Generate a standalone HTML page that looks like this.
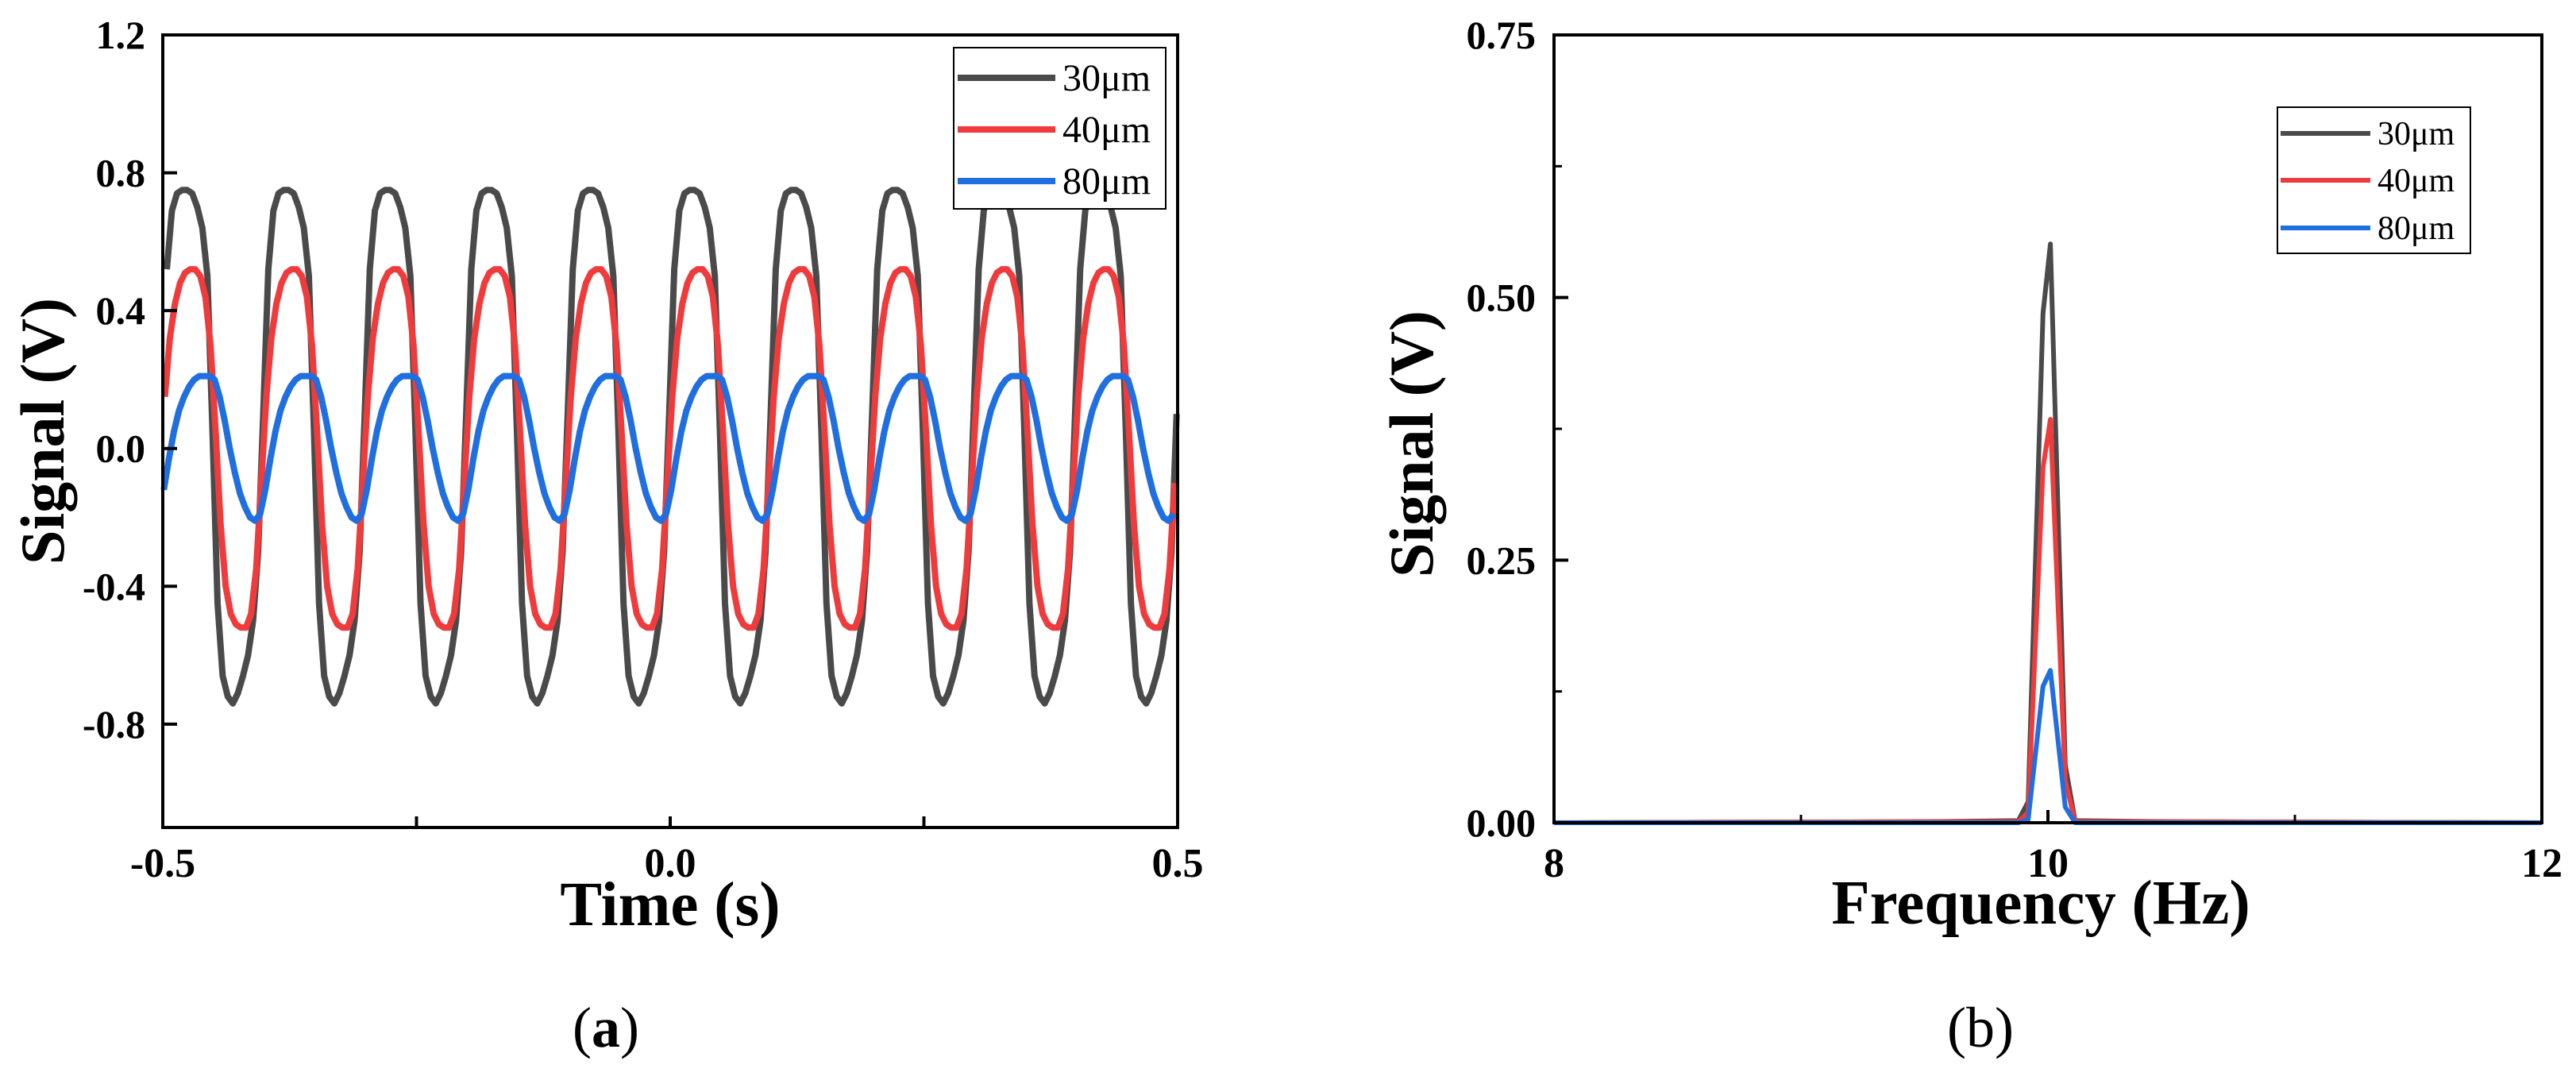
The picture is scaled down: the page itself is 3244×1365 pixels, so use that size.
<!DOCTYPE html>
<html><head><meta charset="utf-8"><style>
html,body{margin:0;padding:0;background:#fff;}
svg{display:block;}
text{font-family:"Liberation Serif",serif;}
</style></head><body>
<svg id="fig" width="3244" height="1365" viewBox="0 0 3244 1365" xmlns="http://www.w3.org/2000/svg"></svg>
<script>
// ---- Panel (a) data: one sampled cycle (step 0.005 s, starting at each series' peak) ----
const cycleStep = 0.005;
const timeStart = -0.5, timeEnd = 0.5;
const seriesNames = ["30μm","40μm","80μm"];
const peakTimes = [-0.476, -0.468, -0.454];
const cycle30 = [0.75,0.74,0.70,0.64,0.50,0.05,-0.45,-0.66,-0.72,-0.74,-0.71,-0.66,-0.60,-0.50,-0.3,0.1,0.52,0.69,0.74,0.75];
const cycle40 = [0.52,0.50,0.44,0.30,0.05,-0.22,-0.40,-0.48,-0.51,-0.52,-0.52,-0.48,-0.35,-0.1,0.15,0.32,0.42,0.48,0.51,0.52];
const cycle80 = [0.21,0.20,0.15,0.08,0.0,-0.07,-0.13,-0.17,-0.20,-0.21,-0.19,-0.12,-0.03,0.05,0.11,0.15,0.18,0.20,0.21,0.21];
const yTicksA = [-0.8,-0.4,0.0,0.4,0.8,1.2];
const yTickLabelsA = ["-0.8","-0.4","0.0","0.4","0.8","1.2"];
const xTicksA = [-0.5,0.0,0.5];
const xTickLabelsA = ["-0.5","0.0","0.5"];
const xMinorA = [-0.25,0.25];
// ---- Panel (b) data ----
const freqs = [8, 9.5, 9.88, 9.92, 9.98, 10.01, 10.07, 10.11, 10.5, 12];
const spec30 = [0, 0.001, 0.002, 0.02, 0.485, 0.551, 0.055, 0.002, 0.001, 0];
const spec40 = [0, 0.001, 0.001, 0.01, 0.338, 0.384, 0.04, 0.001, 0.001, 0];
const spec80 = [0, 0.0, 0.0, 0.003, 0.13, 0.145, 0.015, 0.0, 0.0, 0];
const yTicksB = [0,0.25,0.5,0.75];
const yTickLabelsB = ["0.00","0.25","0.50","0.75"];
const yMinorB = [0.125,0.375,0.625];
const xTicksB = [8,10,12];
const xTickLabelsB = ["8","10","12"];
const xMinorB = [9,11];

const colors = ["#4a4a4a","#ef3b3b","#1f6fe0"];
const NS = "http://www.w3.org/2000/svg";
const svg = document.getElementById('fig');
function mk(tag, attrs, parent, txt){
  const e = document.createElementNS(NS, tag);
  for (const k in attrs) e.setAttribute(k, attrs[k]);
  if (txt !== undefined) e.textContent = txt;
  (parent||svg).appendChild(e);
  return e;
}

// ---------- Panel A ----------
const A = {x0:205, x1:1483, y0:44, y1:1042, xmin:-0.5, xmax:0.5, ymin:-1.1, ymax:1.2};
const axA = t => A.x0 + (t - A.xmin) / (A.xmax - A.xmin) * (A.x1 - A.x0);
const ayA = v => A.y1 - (v - A.ymin) / (A.ymax - A.ymin) * (A.y1 - A.y0);
const gA = mk('g', {});  
const cycles = [cycle30, cycle40, cycle80];
cycles.forEach((cyc, si) => {
  const pts = [];
  const n = cyc.length;
  const kStart = Math.floor((timeStart - peakTimes[si]) / cycleStep) - 1;
  const kEnd = Math.ceil((timeEnd - peakTimes[si]) / cycleStep) + 1;
  for (let k = kStart; k <= kEnd; k++) {
    let t = peakTimes[si] + k * cycleStep;
    const idx = ((k % n) + n) % n;
    if (t < timeStart) continue;
    if (t > timeEnd) break;
    pts.push(axA(t).toFixed(1) + ',' + ayA(cyc[idx]).toFixed(1));
  }
  const p = mk('polyline', {points: pts.join(' '), fill:'none', stroke:colors[si], 'stroke-width':8, 'stroke-linejoin':'round'}, gA);
  
  
});
const frameA = mk('rect', {x:A.x0, y:A.y0, width:A.x1-A.x0, height:A.y1-A.y0, fill:'none', stroke:'#000', 'stroke-width':4}, gA);
 
yTicksA.forEach((v,i) => {
  const y = ayA(v);
  if (i < yTicksA.length - 1) mk('line', {x1:A.x0, x2:A.x0+18, y1:y, y2:y, stroke:'#000', 'stroke-width':4}, gA);
  const t = mk('text', {x:A.x0-22, y:y+17, 'text-anchor':'end', 'font-size':50, 'font-weight':'bold'}, gA, yTickLabelsA[i]);
   
});
xTicksA.concat(xMinorA).forEach(v => {
  const x = axA(v);
  mk('line', {x1:x, x2:x, y1:A.y1, y2:A.y1-14, stroke:'#000', 'stroke-width':4}, gA);
});
xTicksA.forEach((v,i) => {
  const t = mk('text', {x:axA(v), y:1104, 'text-anchor':'middle', 'font-size':52, 'font-weight':'bold'}, gA, xTickLabelsA[i]);
   
});
let tt = mk('text', {x:844, y:1165, 'text-anchor':'middle', 'font-size':79, 'font-weight':'bold'}, gA, 'Time (s)');
 
tt = mk('text', {x:0, y:0, 'text-anchor':'middle', 'font-size':78, 'font-weight':'bold', transform:'translate(80,543) rotate(-90)'}, gA, 'Signal (V)');
 
tt = mk('text', {x:763, y:1318, 'text-anchor':'middle', 'font-size':72}, gA);
 
mk('tspan', {}, tt, '(');
mk('tspan', {'font-weight':'bold'}, tt, 'a');
mk('tspan', {}, tt, ')');
// legend A
const lgA = mk('g', {}, gA);  
mk('rect', {x:1201, y:60, width:267, height:203, fill:'#fff', stroke:'#000', 'stroke-width':2}, lgA);
[98,163,228].forEach((y,i) => {
  const e = mk('g', {}, lgA);  
  mk('line', {x1:1206, x2:1329, y1:y, y2:y, stroke:colors[i], 'stroke-width':8}, e);
  mk('text', {x:1338, y:y+16, 'font-size':48}, e, seriesNames[i]);
});

// ---------- Panel B ----------
const B = {x0:1957, x1:3201, y0:44, y1:1036, xmin:8, xmax:12, ymin:0, ymax:0.75};
const axB = f => B.x0 + (f - B.xmin) / (B.xmax - B.xmin) * (B.x1 - B.x0);
const ayB = v => B.y1 - (v - B.ymin) / (B.ymax - B.ymin) * (B.y1 - B.y0);
const gB = mk('g', {});  
[spec30, spec40, spec80].forEach((s, si) => {
  const pts = freqs.map((f,i) => axB(f).toFixed(1) + ',' + ayB(s[i]).toFixed(1)).join(' ');
  const p = mk('polyline', {points: pts, fill:'none', stroke:colors[si], 'stroke-width':6, 'stroke-linejoin':'round'}, gB);
  
  
});
const frameB = mk('rect', {x:B.x0, y:B.y0, width:B.x1-B.x0, height:B.y1-B.y0, fill:'none', stroke:'#000', 'stroke-width':4}, gB);
 
yTicksB.forEach((v,i) => {
  const y = ayB(v);
  mk('line', {x1:B.x0, x2:B.x0+18, y1:y, y2:y, stroke:'#000', 'stroke-width':4}, gB);
  const t = mk('text', {x:1934, y:y+17, 'text-anchor':'end', 'font-size':50, 'font-weight':'bold'}, gB, yTickLabelsB[i]);
   
});
yMinorB.forEach(v => { const y = ayB(v); mk('line', {x1:B.x0, x2:B.x0+10, y1:y, y2:y, stroke:'#000', 'stroke-width':3}, gB); });
xTicksB.forEach((v,i) => {
  const x = axB(v);
  mk('line', {x1:x, x2:x, y1:B.y1, y2:B.y1-16, stroke:'#000', 'stroke-width':4}, gB);
  const t = mk('text', {x:x, y:1104, 'text-anchor':'middle', 'font-size':52, 'font-weight':'bold'}, gB, xTickLabelsB[i]);
   
});
xMinorB.forEach(v => { const x = axB(v); mk('line', {x1:x, x2:x, y1:B.y1, y2:B.y1-10, stroke:'#000', 'stroke-width':3}, gB); });
tt = mk('text', {x:2570, y:1163, 'text-anchor':'middle', 'font-size':79, 'font-weight':'bold'}, gB, 'Frequency (Hz)');
 
tt = mk('text', {x:0, y:0, 'text-anchor':'middle', 'font-size':78, 'font-weight':'bold', transform:'translate(1804,559) rotate(-90)'}, gB, 'Signal (V)');
 
tt = mk('text', {x:2494, y:1318, 'text-anchor':'middle', 'font-size':72}, gB, '(b)');
 
const lgB = mk('g', {}, gB);  
mk('rect', {x:2868, y:135, width:243, height:184, fill:'#fff', stroke:'#000', 'stroke-width':2}, lgB);
[168,227,287].forEach((y,i) => {
  const e = mk('g', {}, lgB);  
  mk('line', {x1:2872, x2:2985, y1:y, y2:y, stroke:colors[i], 'stroke-width':6}, e);
  mk('text', {x:2994, y:y+14, 'font-size':42}, e, seriesNames[i]);
});
</script>
</body></html>
